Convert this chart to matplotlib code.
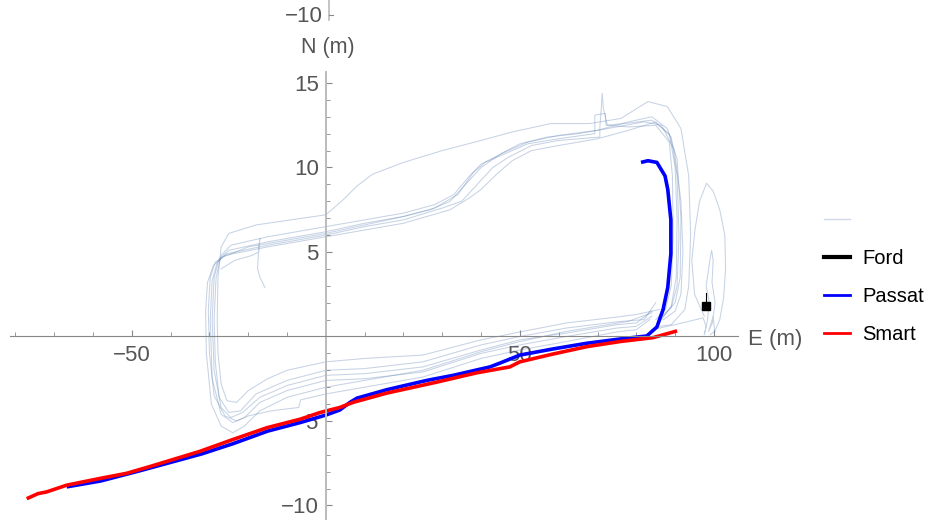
import matplotlib
matplotlib.use("Agg")
import matplotlib.pyplot as plt
from matplotlib.lines import Line2D
from matplotlib.ticker import FixedLocator, MultipleLocator

plt.rcParams['font.family'] = ['Liberation Sans', 'DejaVu Sans']

# laps of earlier runs (faint traces), E / N in metres
lap1_e = [86, 80, 75, 62, 50, 40, 25, 10, 0, -10, -15, -20, -23, -25.5, -27, -27.8, -28, -27.8, -27, -25, -18, -9, 0, 4.5, 8, 12, 20, 30, 40, 48, 58, 68, 76, 83, 88, 91.5, 93.5, 94, 93.5, 92.5, 89, 86]
lap1_n = [1.6, 1.3, 1.15, 0.8, 0.27, -0.2, -1.1, -1.3, -1.5, -2.0, -2.5, -3.2, -3.9, -3.8, -2.8, -1, 1, 3.5, 5.3, 6.1, 6.6, 6.9, 7.2, 8.1, 8.9, 9.6, 10.3, 11.0, 11.6, 12.1, 12.6, 12.6, 12.9, 13.9, 13.6, 12.3, 9.5, 6, 3, 1.6, 0.7, 0.6]

lap2_e = [85, 82, 75, 62, 50, 40, 25, 10, 0, -10, -18, -22, -25, -27.5, -28.5, -28.8, -28.3, -27, -24.5, -15, 0, 10, 20, 28, 33, 37, 40, 46, 52, 60, 70, 78, 84, 88, 90.5, 91.5, 91.3, 90, 87]
lap2_n = [2, 1.0, 0.87, 0.5, 0.0, -0.5, -1.5, -1.9, -2.0, -2.6, -3.4, -4.4, -4.5, -3.6, -1.5, 1, 3.5, 4.8, 5.4, 5.9, 6.5, 6.9, 7.3, 7.8, 8.4, 9.5, 10.2, 10.9, 11.5, 11.9, 12.2, 12.7, 13.0, 12.3, 10.5, 7, 3.5, 2, 1.2]

lap3_e = [84, 80, 75, 62, 50, 40, 25, 10, 0, -10, -17, -21.5, -24.5, -27, -28.8, -29.3, -28.8, -27.5, -25, -15, 0, 10, 20, 28, 34, 38, 41, 46, 52, 60, 69.3, 69.3, 72, 72.2, 77, 84, 88.5, 90, 90.5, 90.3, 89, 86.5]
lap3_n = [1.5, 0.8, 0.7, 0.2, -0.2, -0.8, -1.8, -2.2, -2.3, -2.9, -3.6, -4.5, -4.8, -4.2, -2, 1, 3.5, 4.6, 5.1, 5.6, 6.2, 6.7, 7.1, 7.6, 8.4, 9.7, 10.3, 10.8, 11.4, 11.7, 12.0, 13.1, 13.2, 12.5, 12.6, 12.8, 12.0, 10, 7, 3.5, 1.8, 1.0]

lap4_e = [84, 80, 75, 62, 50, 40, 25, 10, 0, -10, -17, -21, -24, -27, -29.3, -29.8, -29.3, -28, -25.5, -15, 0, 10, 20, 30, 35, 39, 43, 47, 53, 60, 70.6, 70.6, 71, 71.2, 71.5, 72.5, 78, 85, 88.5, 89.3, 89.5, 89, 87.5, 85]
lap4_n = [1.2, 0.6, 0.5, 0.0, -0.5, -1.0, -2.1, -2.5, -2.6, -3.2, -3.9, -4.8, -5.1, -4.6, -2.5, 1, 3.3, 4.4, 4.9, 5.4, 6.0, 6.5, 6.9, 7.6, 8.0, 9.0, 10.0, 10.6, 11.3, 11.6, 11.8, 12.4, 13.6, 14.4, 13.5, 12.5, 12.4, 12.5, 11.5, 9.5, 6, 3, 1.6, 1.0]

lap5_e = [83.5, 80, 75, 62, 50, 40, 25, 10, 0, -6.5, -7, -14, -20, -23, -26, -28.8, -30, -30.3, -29.8, -28.5, -26, -15, 0, 10, 20, 32, 37, 40, 44, 48, 53, 60, 70, 78, 85, 89, 90.5, 91, 90.5, 89, 86]
lap5_n = [1.0, 0.4, 0.27, -0.3, -0.8, -1.3, -2.4, -3.0, -3.4, -3.75, -4.2, -4.4, -4.7, -5.0, -4.7, -3.5, -1, 1.5, 3.5, 4.4, 4.8, 5.3, 5.9, 6.3, 6.7, 7.5, 8.2, 8.7, 9.6, 10.4, 11.0, 11.3, 11.7, 12.2, 12.7, 11.8, 9.5, 6, 3, 1.7, 1.1]

lap6_e = [84, 78, 70, 62, 50, 40, 25, 10, 0, -10, -17, -21, -24, -27, -29.5, -30.8, -31, -30.5, -29, -26.5, -20, -10, 0, 10, 20, 27, 32, 36, 40, 45, 50, 57, 65, 75, 82, 86.5, 89.8, 91.5, 92, 91.5, 90, 87]
lap6_n = [1.4, 0.9, 0.6, 0.3, -0.3, -0.9, -2.0, -2.6, -3.0, -3.6, -4.4, -5.3, -5.7, -5.3, -4, -1, 1.5, 3.2, 4.2, 4.7, 5.3, 5.7, 6.1, 6.6, 7.1, 7.5, 8.0, 9.0, 10.0, 10.8, 11.4, 11.8, 12.0, 12.4, 12.7, 12.5, 11, 8, 5, 2.5, 1.5, 1.0]

stray_e = [-27, -23.5, -19, -17.3, -17, -17.3, -17.6, -17.0, -15.7]
stray_n = [4.0, 4.5, 4.8, 5.0, 5.8, 5.3, 4.0, 3.5, 2.9]

tail_e = [84, 90, 97.2, 98.0, 97.5, 98.3, 98.8, 98.0, 99.0, 99.4, 99.8, 99.5, 100.3, 99.6, 98.6, 99.8, 100.2]
tail_n = [0.4, 0.7, 1.1, 0.6, 0.1, 0.9, 2.0, 3.0, 4.6, 5.1, 4.5, 3.2, 2.0, 0.8, 0.3, 1.2, 0.3]

loop_e = [97.5, 95, 94.3, 95.1, 96.3, 98.1, 99.8, 101.5, 102.8, 103, 102.5, 101.5, 100.2, 99]
loop_n = [1.2, 2.5, 4.5, 6.3, 8, 9.07, 8.6, 7.5, 6.0, 4.0, 2.3, 1.0, 0.3, 0.1]

# current run
passat_e = [-66.8, -58, -48, -40, -32, -24, -15, -6.7, 0, 3.6, 6.2, 8, 15.7, 26, 32.8, 42.3, 44.8, 50, 58.5, 67.3, 75.8, 82.7, 85.3, 86.9, 88.1, 88.9, 88.9, 88.1, 87.4, 85.3, 83, 81.2]
passat_n = [-8.9, -8.55, -7.95, -7.45, -6.95, -6.35, -5.6, -5.1, -4.65, -4.35, -3.9, -3.65, -3.15, -2.6, -2.3, -1.8, -1.58, -1.1, -0.74, -0.4, -0.15, 0.03, 0.56, 1.6, 2.9, 4.9, 6.9, 8.7, 9.5, 10.3, 10.4, 10.3]

smart_e = [-77.1, -74.2, -72, -66.8, -58.2, -51.4, -45.4, -32.5, -24, -15.2, -6.7, -1.5, 3.6, 7, 15.7, 28.6, 38.9, 47.4, 50, 58.5, 67.3, 75.8, 84.3, 90.5]
smart_n = [-9.6, -9.3, -9.2, -8.8, -8.4, -8.1, -7.7, -6.8, -6.1, -5.4, -4.9, -4.5, -4.2, -3.9, -3.35, -2.7, -2.15, -1.8, -1.5, -1.04, -0.6, -0.3, -0.07, 0.33]

ford_e = [97.9, 97.9]
ford_n = [1.8, 2.6]

x_major = [-50, 50, 100]
y_major = [-10, -5, 5, 10, 15]

faint = (0.368, 0.507, 0.71)
grey_txt = '#555555'

fig = plt.figure(figsize=(9.33, 5.2), dpi=100)
ax = fig.add_axes([10 / 933, 0, 728 / 933, 448 / 520])

laps = [(lap1_e, lap1_n), (lap2_e, lap2_n), (lap3_e, lap3_n), (lap4_e, lap4_n),
        (lap5_e, lap5_n), (lap6_e, lap6_n), (stray_e, stray_n), (tail_e, tail_n),
        (loop_e, loop_n)]
for e, n in laps:
    ax.plot(e, n, color=faint, alpha=0.35, lw=0.75)

ax.plot(ford_e, ford_n, color='black', lw=0.8)
ax.plot(ford_e[:1], ford_n[:1], 's', color='black', ms=6)
ax.plot(passat_e, passat_n, color='#0000ff', lw=2.6, solid_capstyle='butt')
ax.plot(smart_e, smart_n, color='#ff0000', lw=2.6, solid_capstyle='butt')

ax.set_xlim(-81.4, 106.2)
ax.set_ylim(-10.86, 15.65)

for s in ['top', 'right']:
    ax.spines[s].set_visible(False)
ax.spines['left'].set_position(('data', 0))
ax.spines['bottom'].set_position(('data', 0))
ax.spines['left'].set_color('#bbbbbb')
ax.spines['left'].set_linewidth(1.4)
ax.spines['bottom'].set_color('#888888')
ax.spines['bottom'].set_linewidth(0.8)

ax.xaxis.set_major_locator(FixedLocator(x_major))
ax.xaxis.set_minor_locator(MultipleLocator(10))
ax.yaxis.set_major_locator(FixedLocator(y_major))
ax.yaxis.set_minor_locator(MultipleLocator(1))
ax.tick_params(which='both', direction='in', colors='#888888', labelcolor=grey_txt)
ax.tick_params(which='major', length=4.5, width=0.8, labelsize=16)
ax.tick_params(which='minor', length=2.8, width=0.6)
ax.tick_params(axis='x', which='major', pad=6)
ax.tick_params(axis='y', which='major', pad=5)

fig.text(748 / 933, 1 - 340 / 520, 'E (m)', fontsize=16, color=grey_txt, va='center', ha='left')
fig.text(328 / 933, 1 - 47 / 520, 'N (m)', fontsize=15.5, color=grey_txt, va='center', ha='center')

# bit of the plot above that peeks in at the top
fig.add_artist(Line2D([329 / 933, 329 / 933], [1, 1 - 20 / 520], color='#bbbbbb', lw=1.2))
fig.add_artist(Line2D([329 / 933, 333 / 933], [1 - 15 / 520, 1 - 15 / 520], color='#888888', lw=0.8))
fig.text(323 / 933, 1 - 16 / 520, '\u221210', fontsize=16, color=grey_txt, va='center', ha='right')

handles = [Line2D([], [], color=faint, alpha=0.3, lw=1),
           Line2D([], [], color='black', lw=3),
           Line2D([], [], color='#0000ff', lw=2),
           Line2D([], [], color='#ff0000', lw=2)]
labels = ['', 'Ford', 'Passat', 'Smart']
fig.legend(handles, labels, loc='center left', bbox_to_anchor=(816 / 933, 1 - 277.5 / 520),
           frameon=False, fontsize=14.5, handlelength=1.3, handletextpad=0.6,
           labelspacing=0.95, borderaxespad=0)

fig.savefig('out.png', dpi=100)
